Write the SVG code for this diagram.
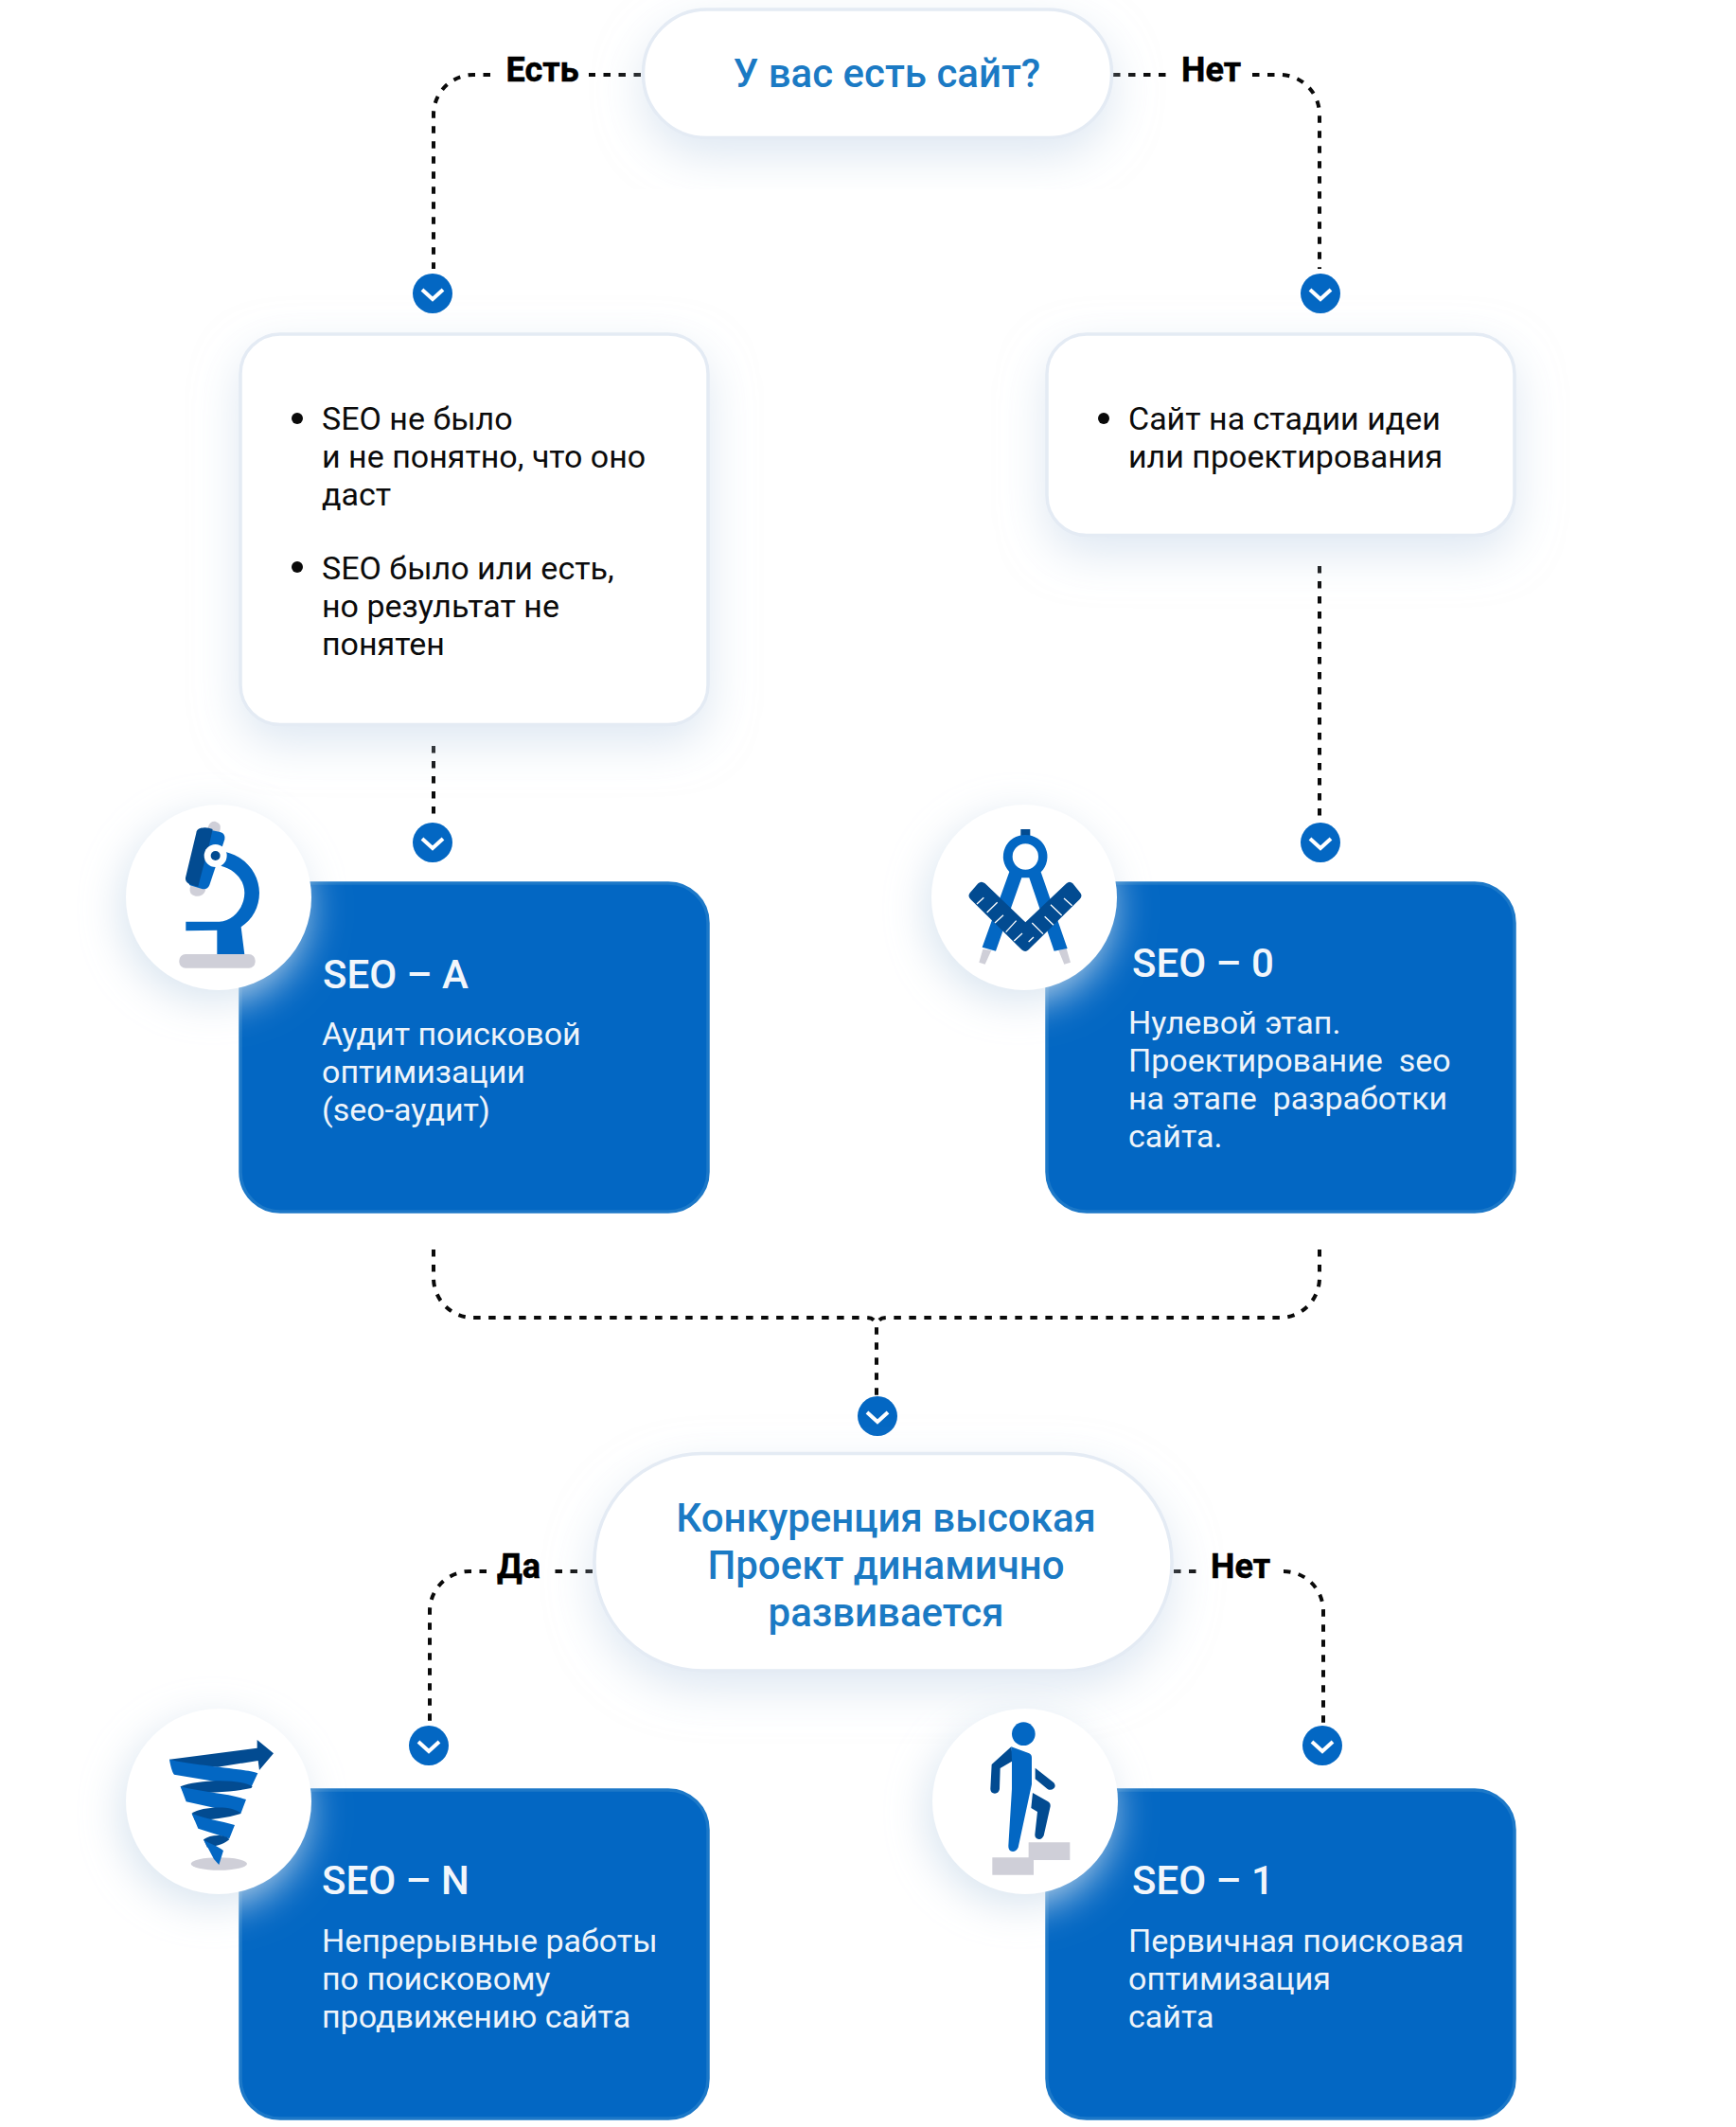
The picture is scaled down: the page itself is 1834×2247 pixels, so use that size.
<svg xmlns="http://www.w3.org/2000/svg" width="1834" height="2247" viewBox="0 0 1834 2247">
<defs>
<style>
text{font-family:Roboto,"Noto Sans",sans-serif;white-space:pre}
.b{font-size:34px;fill:#0b0b0b}
.w{font-size:34px;fill:#eef4fa}
.h{font-size:42px;font-weight:500;fill:#f2f6fb}
.q{font-size:42px;font-weight:500;fill:#1b7ac4;text-anchor:middle}
.l{font-size:36px;font-weight:700;fill:#000;stroke:#000;stroke-width:.5}
.card{fill:#fff;stroke:#e4ebf4;stroke-width:3.5}
.blue{fill:#0367c3;stroke:#1c78c8;stroke-width:3.5}
.dash{fill:none;stroke:#0a0a0a;stroke-width:4;stroke-dasharray:7.5 8.5}
.d{fill:#024b91}.m{fill:#0367c3}.g{fill:#cfcfd8}
</style>
<filter id="sh" x="-30%" y="-30%" width="160%" height="170%"><feDropShadow dx="0" dy="18" stdDeviation="24" flood-color="#c4d5e8" flood-opacity=".55"/></filter>
<filter id="cs" x="-40%" y="-40%" width="180%" height="180%"><feDropShadow dx="-6" dy="12" stdDeviation="22" flood-color="#d5e2ee" flood-opacity=".9"/></filter>
<g id="chev"><circle r="21" fill="#0367c3"/><path d="M-11 -4L0 6L11 -4" fill="none" stroke="#fff" stroke-width="4"/></g>
</defs>

<g id="connectors" class="dash">
<path class="dash" d="M677 79H622M518 79H500A42 42 0 0 0 458 121V284"/>
<path class="dash" d="M1176 79H1232M1323 79H1352A42 42 0 0 1 1394 121V284"/>
<path class="dash" d="M458 788V868"/>
<path class="dash" d="M1394 598V868"/>
<path class="dash" d="M458 1320V1350A42 42 0 0 0 500 1392H915Q926 1392 926 1402V1475"/>
<path class="dash" d="M1394 1320V1350A42 42 0 0 1 1352 1392H937Q926 1392 926 1402"/>
<path class="dash" d="M626 1660H586M514 1660H496A42 42 0 0 0 454 1702V1822"/>
<path class="dash" d="M1240 1660H1268M1356 1660A42 42 0 0 1 1398 1702V1822"/>
</g>

<g id="node-site"><rect class="card" filter="url(#sh)" x="679.5" y="10" width="495" height="135.5" rx="67"/>
<text class="q" x="937" y="92">У вас есть сайт?</text></g>
<g id="label-est"><text class="l" x="534.5" y="86">Есть</text></g>
<g id="label-net1"><text class="l" x="1248" y="86">Нет</text></g>
<use id="chev-1" href="#chev" x="457" y="310"/>
<use id="chev-2" href="#chev" x="1395" y="310"/>

<g id="node-left"><rect class="card" filter="url(#sh)" x="254" y="353" width="494" height="412.5" rx="42"/>
<circle cx="314" cy="442" r="6" fill="#0a0a0a"/><circle cx="314" cy="599" r="6" fill="#0a0a0a"/>
<text class="b"><tspan x="340" y="454">SEO не было</tspan><tspan x="340" y="494">и не понятно, что оно</tspan><tspan x="340" y="534">даст</tspan><tspan x="340" y="612">SEO было или есть,</tspan><tspan x="340" y="652">но результат не</tspan><tspan x="340" y="692">понятен</tspan></text></g>

<g id="node-right"><rect class="card" filter="url(#sh)" x="1106" y="353" width="494" height="212.5" rx="42"/>
<circle cx="1166" cy="442" r="6" fill="#0a0a0a"/>
<text class="b"><tspan x="1192" y="454">Сайт на стадии идеи</tspan><tspan x="1192" y="494">или проектирования</tspan></text></g>

<use id="chev-3" href="#chev" x="457" y="890"/>
<use id="chev-4" href="#chev" x="1395" y="890"/>

<g id="seo-a"><rect class="blue" x="254" y="933" width="494" height="347" rx="42"/>
<circle cx="231" cy="948" r="98" fill="#fff" filter="url(#cs)"/>
<g transform="translate(120 840) scale(.3333)">
<path class="g" d="M300 100Q305 82 322 83Q343 90 338 108L290 305Q282 322 260 320Q238 315 242 295Z"/>
<path class="m" d="M277 104L338 117Q355 122 352 140L304 285Q298 300 280 297L240 285Z"/>
<path class="d" d="M277 104Q262 108 262 120L228 262Q226 275 240 282L268 290Q280 240 300 170L314 108Q296 100 277 104Z"/>
<path class="m" d="M355 180C420 195 462 250 462 310C462 355 440 395 404 418L415 505H328V428L229 430V401H335C380 398 415 355 415 310C415 270 385 235 340 224Z"/>
<circle cx="323" cy="192" r="36" fill="#fff"/><circle cx="323" cy="192" r="15" class="d"/>
<rect class="g" x="208" y="504" width="241" height="44" rx="20"/>
</g>
<text class="h" x="341" y="1044">SEO – A</text>
<text class="w"><tspan x="340" y="1104">Аудит поисковой</tspan><tspan x="340" y="1144">оптимизации</tspan><tspan x="340" y="1184">(seo-аудит)</tspan></text></g>

<g id="seo-0"><rect class="blue" x="1106" y="933" width="494" height="347" rx="42"/>
<circle cx="1082" cy="948" r="98" fill="#fff" filter="url(#cs)"/>
<g transform="translate(970 840) scale(.3333)">
<rect class="d" x="325" y="108" width="30" height="24"/>
<path class="g" d="M205 488L232 492L212 536L193 530ZM445 492L470 486L483 530L463 536Z"/>
<path fill-rule="evenodd" class="m" d="M340 126A69 69 0 0 1 389 244L473 486L431 494L352 262H328L246 494L203 482L289 243A69 69 0 0 1 340 126ZM340 154A41 41 0 1 0 340 236A41 41 0 1 0 340 154Z"/>
<path class="d" d="M190 280Q200 270 212 280L340 403L470 280Q480 270 490 280L514 310Q522 320 512 330L350 490Q340 500 328 490L166 330Q156 320 164 310Z"/>
<path d="M186 345L208 325M218 372L251 340M243 405L270 380M278 434L311 398M304 462L330 438M350 465L366 450M396 440L361 405M429 412L401 385M455 381L420 347M488 350L462 327" fill="none" stroke="#fff" stroke-width="4"/>
</g>
<text class="h" x="1196" y="1032">SEO – 0</text>
<text class="w"><tspan x="1192" y="1092">Нулевой этап.</tspan><tspan x="1192" y="1132">Проектирование  seo</tspan><tspan x="1192" y="1172">на этапе  разработки</tspan><tspan x="1192" y="1212">сайта.</tspan></text></g>

<use id="chev-5" href="#chev" x="927" y="1496"/>

<g id="node-comp"><rect class="card" filter="url(#sh)" x="628" y="1535.5" width="610" height="229.5" rx="114"/>
<text class="q"><tspan x="936" y="1618">Конкуренция высокая</tspan><tspan x="936" y="1668">Проект динамично</tspan><tspan x="936" y="1718">развивается</tspan></text></g>
<g id="label-da"><text class="l" x="525" y="1667">Да</text></g>
<g id="label-net2"><text class="l" x="1279" y="1667">Нет</text></g>
<use id="chev-6" href="#chev" x="453" y="1844"/>
<use id="chev-7" href="#chev" x="1397" y="1844"/>

<g id="seo-n"><rect class="blue" x="254" y="1891" width="494" height="347" rx="42"/>
<circle cx="231" cy="1903" r="98" fill="#fff" filter="url(#cs)"/>
<g transform="translate(120 1790) scale(.3333)">
<ellipse class="g" cx="334" cy="537" rx="89" ry="20"/>
<path class="d" d="M177 206L455 170V144L507 187L462 240L458 210L330 230L200 222Z"/>
<path class="m" d="M177 206C180 225 185 245 192 254L436 295L457 250C420 235 250 225 177 206Z"/>
<path class="d" d="M212 292C260 270 400 265 440 292L436 297C380 310 300 310 225 318Z"/>
<path class="m" d="M212 292L230 340L403 378L420 333C370 315 280 310 212 292Z"/>
<path class="d" d="M248 377C280 355 380 350 403 378C360 392 310 396 258 400Z"/>
<path class="m" d="M248 377L268 425L367 457L384 414C340 400 290 395 248 377Z"/>
<path class="d" d="M285 460C310 440 360 445 367 460C345 478 320 482 297 485Z"/>
<path class="m" d="M285 460L318 522L334 540L348 495C330 480 305 475 285 460Z"/>
</g>
<text class="h" x="340" y="2001">SEO – N</text>
<text class="w"><tspan x="340" y="2062">Непрерывные работы</tspan><tspan x="340" y="2102">по поисковому</tspan><tspan x="340" y="2142">продвижению сайта</tspan></text></g>

<g id="seo-1"><rect class="blue" x="1106" y="1891" width="494" height="347" rx="42"/>
<circle cx="1083" cy="1903" r="98" fill="#fff" filter="url(#cs)"/>
<g transform="translate(970 1790) scale(.3333)">
<path class="g" d="M350 469H481V525H366V572H235V517H350Z"/>
<circle class="m" cx="334" cy="125" r="37"/>
<path class="d" d="M295 166L301 210L260 234L258 300Q255 314 243 314Q230 314 229 300L233 222Z"/>
<path class="m" d="M295 166L350 186Q360 190 360 200V285L317 485Q310 498 300 498Q285 496 286 480L297 300V205Z"/>
<path class="d" d="M371 233L430 280Q438 290 430 298Q420 306 410 300L371 268ZM363 312L412 340Q420 345 419 355L398 448Q392 460 383 459Q370 458 370 445L378 372L358 360Z"/>
</g>
<text class="h" x="1196" y="2001">SEO – 1</text>
<text class="w"><tspan x="1192" y="2062">Первичная поисковая</tspan><tspan x="1192" y="2102">оптимизация</tspan><tspan x="1192" y="2142">сайта</tspan></text></g>
</svg>
